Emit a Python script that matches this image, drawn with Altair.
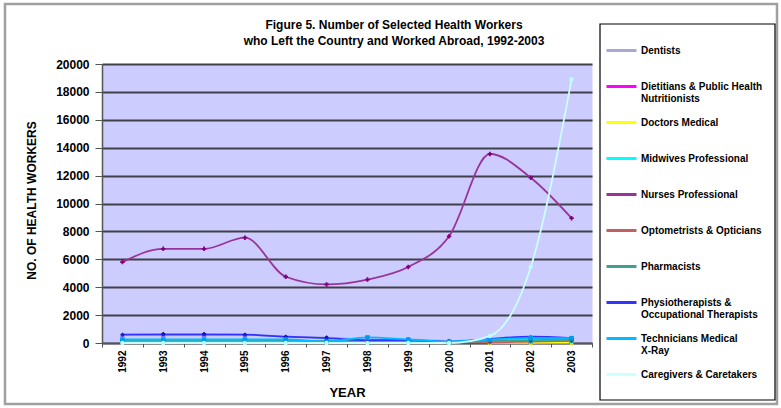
import altair as alt
import pandas as pd

# Years on the horizontal axis
years = [1992, 1993, 1994, 1995, 1996, 1997, 1998, 1999, 2000, 2001, 2002, 2003]

# Series names, in legend order
series = [
    "Dentists",
    "Dietitians & Public Health Nutritionists",
    "Doctors Medical",
    "Midwives Professional",
    "Nurses Professional",
    "Optometrists & Opticians",
    "Pharmacists",
    "Physiotherapists & Occupational Therapists",
    "Technicians Medical X-Ray",
    "Caregivers & Caretakers",
]

# Deployed workers per year (None = not reported)
dentists = [600, 650, 650, 600, 450, 400, 250, 250, 150, 250, 350, 300]
dietitians = [None, None, None, None, None, None, None, None, None, 50, 100, 100]
doctors = [None, None, None, None, None, None, None, None, None, 10, 10, 20]
midwives = [200, 200, 200, 200, 200, 150, 150, 150, 50, 100, 150, 150]
nurses = [5800, 6750, 6750, 7550, 4750, 4200, 4550, 5450, 7650, 13550, 11850, 8950]
optometrists = [None, None, None, None, None, None, None, None, 100, 50, 100, 150]
pharmacists = [150, 150, 150, 150, 150, 150, 150, 150, 50, 150, 200, 250]
physiotherapists = [600, 600, 600, 600, 450, 350, 200, 200, 100, 300, 450, 350]
technicians = [250, 250, 250, 250, 250, 100, 400, 250, 100, 250, 350, 350]
caregivers = [0, 0, 0, 0, 0, 0, 0, 0, 0, 500, 5450, 18900]

# Chart heading lines
title_lines = [
    "Figure 5. Number of Selected Health Workers",
    "who Left the Country and Worked Abroad, 1992-2003",
]

line_colors = ["#A8A8D8", "#FF00FF", "#FFFF00", "#00FFFF", "#993399",
               "#C06060", "#40A090", "#3333FF", "#00BBFF", "#CCFFFF"]
marker_colors = ["#000080", "#FF00FF", "#EEEE00", "#00E0E0", "#800080",
                 "#993333", "#008080", "#2222EE", "#0099EE", "#BBFFFF"]

values = [dentists, dietitians, doctors, midwives, nurses,
          optometrists, pharmacists, physiotherapists, technicians, caregivers]

rows = []
for name, vals in zip(series, values):
    for yr, v in zip(years, vals):
        if v is not None:
            rows.append({"year": str(yr), "series": name, "workers": v})
df = pd.DataFrame(rows)

FONT = "Arial, Liberation Sans"

x_enc = alt.X(
    "year:O",
    sort=[str(y) for y in years],
    scale=alt.Scale(type="band", paddingInner=0, paddingOuter=0),
    axis=alt.Axis(
        title="YEAR", labelAngle=-90, tickBand="extent", tickSize=4,
        labelFont=FONT, labelFontSize=10, labelFontWeight="bold", labelColor="#000",
        labelPadding=3, titleFont=FONT, titleFontSize=13, titleFontWeight="bold",
        titleColor="#000", titlePadding=14, domainColor="#555", domainWidth=1.5,
        tickColor="#555", grid=False,
    ),
)
y_enc = alt.Y(
    "workers:Q",
    scale=alt.Scale(domain=[0, 20000], nice=False),
    axis=alt.Axis(
        title="NO. OF HEALTH WORKERS", values=list(range(0, 20001, 2000)), format="d",
        labelFont=FONT, labelFontSize=12, labelFontWeight="bold", labelColor="#000",
        labelPadding=6, tickSize=7, tickColor="#555", domainColor="#555", domainWidth=1.5,
        titleFont=FONT, titleFontSize=12, titleFontWeight="bold", titleColor="#000",
        titleX=-64, titleY=136, titleAngle=-90, titleAlign="center",
        grid=True, gridColor="#404048", gridWidth=1.8,
    ),
)

label_expr = (
    "datum.label == 'Dietitians & Public Health Nutritionists' ? ['Dietitians & Public Health', 'Nutritionists'] : "
    "datum.label == 'Physiotherapists & Occupational Therapists' ? ['Physiotherapists &', 'Occupational Therapists'] : "
    "datum.label == 'Technicians Medical X-Ray' ? ['Technicians Medical', 'X-Ray'] : datum.label"
)

lines = alt.Chart(df).mark_line(strokeWidth=1.8, interpolate="monotone").encode(
    x=x_enc,
    y=y_enc,
    color=alt.Color(
        "series:N",
        scale=alt.Scale(domain=series, range=line_colors),
        sort=series,
        legend=alt.Legend(
            title=None, orient="none", legendX=503, legendY=-30, direction="vertical",
            symbolType="stroke", symbolSize=900, symbolStrokeWidth=3,
            labelFont=FONT, labelFontSize=10, labelFontWeight="bold", labelColor="#000",
            labelLimit=200, labelOffset=3, rowPadding=2, padding=0, gridAlign="all",
            labelExpr=label_expr,
        ),
    ),
    order=alt.Order("year:O"),
)

points = alt.Chart(df).mark_point(filled=True, size=20, opacity=1).encode(
    x=x_enc,
    y=y_enc,
    fill=alt.Fill("series:N", scale=alt.Scale(domain=series, range=marker_colors), legend=None),
    shape=alt.Shape(
        "series:N",
        scale=alt.Scale(domain=series, range=["diamond", "square", "triangle-up", "square", "cross",
                                              "diamond", "cross", "triangle-up", "square", "circle"]),
        legend=None,
    ),
)

one_row = pd.DataFrame({"k": [0]})

frame = alt.Chart(one_row).mark_rect(
    fill="transparent", stroke="#A0A0A0", strokeWidth=2.5
).encode(x=alt.value(-97), x2=alt.value(675), y=alt.value(-60), y2=alt.value(340))

legend_box = alt.Chart(one_row).mark_rect(
    fill="#FFFFFF", stroke="#000000", strokeWidth=1.2
).encode(x=alt.value(498), x2=alt.value(673), y=alt.value(-40), y2=alt.value(336))

heading_layers = [
    alt.Chart(one_row).mark_text(
        font=FONT, fontSize=12, fontWeight="bold", color="#000", align="center", baseline="middle"
    ).encode(text=alt.value(txt), x=alt.value(292), y=alt.value(ypos))
    for txt, ypos in zip(title_lines, [-39, -23])
]

chart = alt.layer(frame, legend_box, lines, points, *heading_layers).resolve_scale(
    fill="independent", shape="independent"
).properties(
    width=490,
    height=279,
    padding={"left": 102, "top": 64, "right": 189, "bottom": 65},
    autosize=alt.AutoSizeParams(type="none"),
    background="#FFFFFF",
).configure_view(
    fill="#CCCCFF", stroke="transparent"
)

chart.save("out.html", embed_options={"renderer": "svg", "actions": False})
